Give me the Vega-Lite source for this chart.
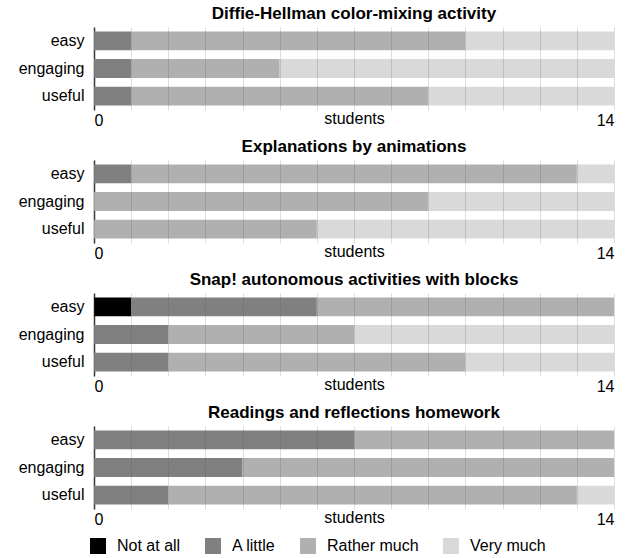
{
  "$schema": "https://vega.github.io/schema/vega-lite/v6.json",
  "background": "white",
  "padding": {"left": 18, "right": 5, "top": 5, "bottom": 3},
  "config": {
    "font": "Liberation Sans",
    "view": {"stroke": null},
    "axis": {"labelFont": "Liberation Sans", "titleFont": "Liberation Sans"}
  },
  "data": {
    "values": [
      {"activity": "Diffie-Hellman color-mixing activity", "question": "easy", "level": "A little", "o": 2, "count": 1},
      {"activity": "Diffie-Hellman color-mixing activity", "question": "easy", "level": "Rather much", "o": 3, "count": 9},
      {"activity": "Diffie-Hellman color-mixing activity", "question": "easy", "level": "Very much", "o": 4, "count": 4},
      {"activity": "Diffie-Hellman color-mixing activity", "question": "engaging", "level": "A little", "o": 2, "count": 1},
      {"activity": "Diffie-Hellman color-mixing activity", "question": "engaging", "level": "Rather much", "o": 3, "count": 4},
      {"activity": "Diffie-Hellman color-mixing activity", "question": "engaging", "level": "Very much", "o": 4, "count": 9},
      {"activity": "Diffie-Hellman color-mixing activity", "question": "useful", "level": "A little", "o": 2, "count": 1},
      {"activity": "Diffie-Hellman color-mixing activity", "question": "useful", "level": "Rather much", "o": 3, "count": 8},
      {"activity": "Diffie-Hellman color-mixing activity", "question": "useful", "level": "Very much", "o": 4, "count": 5},
      {"activity": "Explanations by animations", "question": "easy", "level": "A little", "o": 2, "count": 1},
      {"activity": "Explanations by animations", "question": "easy", "level": "Rather much", "o": 3, "count": 12},
      {"activity": "Explanations by animations", "question": "easy", "level": "Very much", "o": 4, "count": 1},
      {"activity": "Explanations by animations", "question": "engaging", "level": "Rather much", "o": 3, "count": 9},
      {"activity": "Explanations by animations", "question": "engaging", "level": "Very much", "o": 4, "count": 5},
      {"activity": "Explanations by animations", "question": "useful", "level": "Rather much", "o": 3, "count": 6},
      {"activity": "Explanations by animations", "question": "useful", "level": "Very much", "o": 4, "count": 8},
      {"activity": "Snap! autonomous activities with blocks", "question": "easy", "level": "Not at all", "o": 1, "count": 1},
      {"activity": "Snap! autonomous activities with blocks", "question": "easy", "level": "A little", "o": 2, "count": 5},
      {"activity": "Snap! autonomous activities with blocks", "question": "easy", "level": "Rather much", "o": 3, "count": 8},
      {"activity": "Snap! autonomous activities with blocks", "question": "engaging", "level": "A little", "o": 2, "count": 2},
      {"activity": "Snap! autonomous activities with blocks", "question": "engaging", "level": "Rather much", "o": 3, "count": 5},
      {"activity": "Snap! autonomous activities with blocks", "question": "engaging", "level": "Very much", "o": 4, "count": 7},
      {"activity": "Snap! autonomous activities with blocks", "question": "useful", "level": "A little", "o": 2, "count": 2},
      {"activity": "Snap! autonomous activities with blocks", "question": "useful", "level": "Rather much", "o": 3, "count": 8},
      {"activity": "Snap! autonomous activities with blocks", "question": "useful", "level": "Very much", "o": 4, "count": 4},
      {"activity": "Readings and reflections homework", "question": "easy", "level": "A little", "o": 2, "count": 7},
      {"activity": "Readings and reflections homework", "question": "easy", "level": "Rather much", "o": 3, "count": 7},
      {"activity": "Readings and reflections homework", "question": "engaging", "level": "A little", "o": 2, "count": 4},
      {"activity": "Readings and reflections homework", "question": "engaging", "level": "Rather much", "o": 3, "count": 10},
      {"activity": "Readings and reflections homework", "question": "useful", "level": "A little", "o": 2, "count": 2},
      {"activity": "Readings and reflections homework", "question": "useful", "level": "Rather much", "o": 3, "count": 11},
      {"activity": "Readings and reflections homework", "question": "useful", "level": "Very much", "o": 4, "count": 1}
    ]
  },
  "facet": {
    "field": "activity",
    "type": "nominal",
    "sort": ["Diffie-Hellman color-mixing activity", "Explanations by animations", "Snap! autonomous activities with blocks", "Readings and reflections homework"],
    "header": {"title": null, "labelFont": "Liberation Sans", "labelFontSize": 17, "labelFontWeight": "bold", "labelColor": "black", "labelPadding": 4}
  },
  "columns": 1,
  "spacing": 10,
  "resolve": {"axis": {"x": "independent"}},
  "spec": {
    "width": 520,
    "height": 83,
    "mark": {"type": "bar"},
    "encoding": {
      "y": {
        "field": "question", "type": "nominal", "sort": ["easy", "engaging", "useful"],
        "scale": {"paddingInner": 0.32, "paddingOuter": 0.16},
        "axis": {"title": null, "ticks": false, "labelFontSize": 16, "labelColor": "black", "labelPadding": 10, "domainColor": "#333", "domainWidth": 1.5}
      },
      "x": {
        "field": "count", "type": "quantitative", "stack": "zero",
        "scale": {"domain": [0, 14], "nice": false},
        "axis": {
          "title": "students", "values": [0,1,2,3,4,5,6,7,8,9,10,11,12,13,14],
          "labelExpr": "datum.value == 0 || datum.value == 14 ? datum.label : ''",
          "domain": false, "ticks": false, "grid": true, "gridColor": "#555", "gridOpacity": 0.2,
          "zindex": 1, "labelFontSize": 16, "labelColor": "black", "labelPadding": 2,
          "titleFontSize": 16, "titleFontWeight": "normal", "titleColor": "black", "titlePadding": -18
        }
      },
      "color": {
        "field": "level", "type": "nominal",
        "scale": {"domain": ["Not at all", "A little", "Rather much", "Very much"], "range": ["#000000", "#808080", "#b0b0b0", "#d9d9d9"]},
        "legend": {"title": null, "orient": "none", "legendX": -4, "legendY": 511, "direction": "horizontal", "symbolType": "square", "symbolSize": 256, "symbolStrokeWidth": 0, "labelFontSize": 16, "labelColor": "black", "columnPadding": 24, "labelOffset": 11}
      },
      "order": {"field": "o", "type": "quantitative"}
    }
  }
}
